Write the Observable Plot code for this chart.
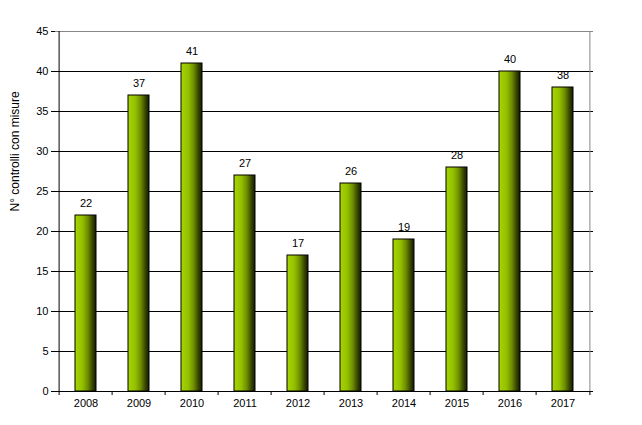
<!DOCTYPE html>
<html><head><meta charset="utf-8">
<script src="https://cdn.jsdelivr.net/npm/d3@7"></script>
<script src="https://cdn.jsdelivr.net/npm/@observablehq/plot@0.6"></script>
<style>
body{margin:0;background:#fff;font-family:"Liberation Sans",Arial,sans-serif;}
</style>
</head><body>
<div id="chart"></div>
<script>
const years = ["2008","2009","2010","2011","2012","2013","2014","2015","2016","2017"];
const counts = [22,37,41,27,17,26,19,28,40,38];
const yTicks = [0,5,10,15,20,25,30,35,40,45];
const yLabel = "N° controlli con misure";

const data = years.map((y,i)=>({year:y, value:counts[i]}));
const W = 642, H = 425, mL = 55, mR = 49, mT = 31, mB = 34;
const step = (W - mL - mR) / years.length;

const plot = Plot.plot({
  width: W, height: H,
  marginLeft: mL, marginRight: mR, marginTop: mT, marginBottom: mB,
  style: {fontFamily: "'Liberation Sans', Arial, sans-serif", fontSize: "11px", color: "#000", background: "#fff"},
  x: {domain: years, paddingInner: 0.6, paddingOuter: 0.3, label: null},
  y: {domain: [0,45], ticks: yTicks, label: null},
  marks: [
    () => {
      const ns = "http://www.w3.org/2000/svg";
      const defs = document.createElementNS(ns, "defs");
      defs.innerHTML = `<linearGradient id="barGrad" x1="0" x2="1" y1="0" y2="0">
        <stop offset="0" stop-color="#a6d600"/>
        <stop offset="0.35" stop-color="#94c000"/>
        <stop offset="0.6" stop-color="#6f8f00"/>
        <stop offset="0.85" stop-color="#334000"/>
        <stop offset="1" stop-color="#141a00"/>
      </linearGradient>`;
      return defs;
    },
    Plot.ruleY(yTicks.filter(t=>t>0 && t<45), {stroke:"#000", strokeWidth:1}),
    Plot.ruleY([45], {stroke:"#888", strokeWidth:1}),
    Plot.ruleX([0], {x: ()=>years[years.length-1], dx: step/2, y1:0, y2:45, stroke:"#888"}),
    Plot.barY(data, {x:"year", y:"value", fill:"url(#barGrad)", stroke:"#000", strokeWidth:1}),
    Plot.text(data, {x:"year", y:"value", text: d=>String(d.value), dy:-12, fontSize:11, fill:"#000"}),
    Plot.axisY({ticks: yTicks, tickSize: 4, tickPadding: 3, label: null, fontSize: 11}),
    Plot.ruleX([0], {x: ()=>years[0], dx: -step/2, y1:0, y2:45, stroke:"#000"}),
    Plot.ruleY([0], {stroke:"#000"}),
    Plot.axisX({tickSize: 0, tickPadding: 8, label: null, fontSize: 11}),
    Plot.ruleX(years, {x: d=>d, dx: -step/2, y1: 0, y2: -0.5, stroke:"#000"}),
    Plot.ruleX([years[years.length-1]], {x: d=>d, dx: step/2, y1: 0, y2: -0.5, stroke:"#000"}),
    Plot.text([yLabel], {frameAnchor:"left", rotate:-90, dx:-40, text:d=>d, fontSize:12, fill:"#000"})
  ]
});
document.getElementById("chart").appendChild(plot);
</script>
</body></html>
